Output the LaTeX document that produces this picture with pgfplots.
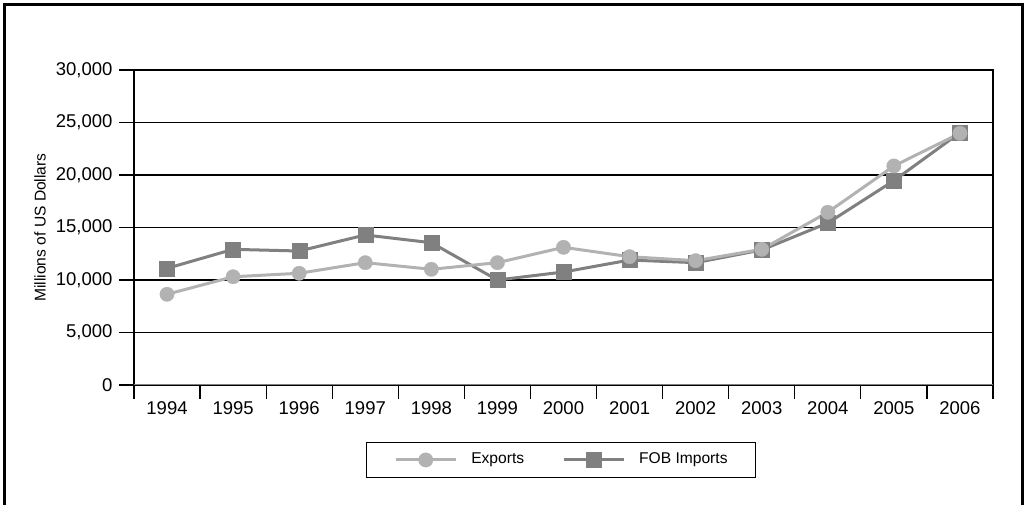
\documentclass[border=0pt]{standalone}
\usepackage{pgfplots}
\pgfplotsset{compat=1.18}
\usepackage{fontspec}
\setmainfont{Liberation Sans}
\definecolor{expc}{RGB}{178,178,178}
\definecolor{impc}{RGB}{128,128,128}
\begin{document}
\begin{tikzpicture}
\useasboundingbox (0pt,0pt) rectangle (1026pt,505pt);
\draw[line width=3pt, black] (4.7pt,0pt) -- (4.7pt,500.3pt) -- (1022.5pt,500.3pt) -- (1022.5pt,0pt);
\begin{axis}[
  at={(134pt,120pt)}, anchor=south west,
  scale only axis, width=859pt, height=315pt,
  xmin=-0.5, xmax=12.5, ymin=0, ymax=30000,
  xtick={0,...,12},
  xticklabels={1994,1995,1996,1997,1998,1999,2000,2001,2002,2003,2004,2005,2006},
  xtick pos=left,
  major x tick style={draw=none},
  minor xtick={-0.5,0.5,...,12.5},
  minor tick length=14pt,
  minor x tick style={black, line width=1.2pt},
  ytick={0,5000,...,30000},
  ytick pos=left,
  major tick length=15pt,
  tick align=outside,
  major y tick style={black, line width=1.2pt},
  ymajorgrids,
  grid style={black, line width=1.2pt},
  axis line style={black, line width=1.2pt},
  /pgf/number format/.cd, 1000 sep={,}, assume math mode=true,
  /pgfplots/.cd,
  scaled y ticks=false,
  ticklabel style={font=\fontsize{18.5}{22}\selectfont},
  xticklabel style={inner sep=1pt},
  yticklabel style={xshift=-3pt},
  every axis y label/.style={at={(axis description cs:-0.1094,0.5)}, rotate=90, anchor=center, font=\fontsize{15.6}{18}\selectfont},
  ylabel={Millions of US Dollars},
  reverse legend,
  legend columns=2,
  legend style={at={(axis description cs:0.497,-0.238)}, anchor=center,
    draw=black, line width=1.2pt, inner xsep=28pt, inner ysep=10pt,
    font=\fontsize{15.6}{18}\selectfont,
    nodes={inner sep=0pt, text height=11.2pt, text depth=3.3pt},
    /tikz/every odd column/.append style={column sep=14pt},
    /tikz/every even column/.append style={column sep=38pt}},
  legend image code/.code={\draw[mark repeat=2, mark phase=2, #1] plot coordinates {(0pt,0pt) (30pt,0pt) (60pt,0pt)};},
]
\addplot[impc, line width=3pt, mark=square*, mark size=7.5pt, mark options={fill=impc, draw=impc, line width=0.3pt}]
  coordinates {(0,11110) (1,12920) (2,12760) (3,14290) (4,13550) (5,10000) (6,10760) (7,11900) (8,11650) (9,12860) (10,15430) (11,19460) (12,24030)};
\addlegendentry{FOB Imports}
\addplot[expc, line width=3pt, mark=*, mark size=7.2pt, mark options={fill=expc, draw=expc, line width=0.3pt}]
  coordinates {(0,8640) (1,10310) (2,10640) (3,11650) (4,11020) (5,11650) (6,13110) (7,12220) (8,11840) (9,12920) (10,16450) (11,20860) (12,23970)};
\addlegendentry{Exports}
\draw[impc, line width=2.7pt] (rel axis cs:0,0) -- (rel axis cs:1,0);
\end{axis}
\end{tikzpicture}
\end{document}
